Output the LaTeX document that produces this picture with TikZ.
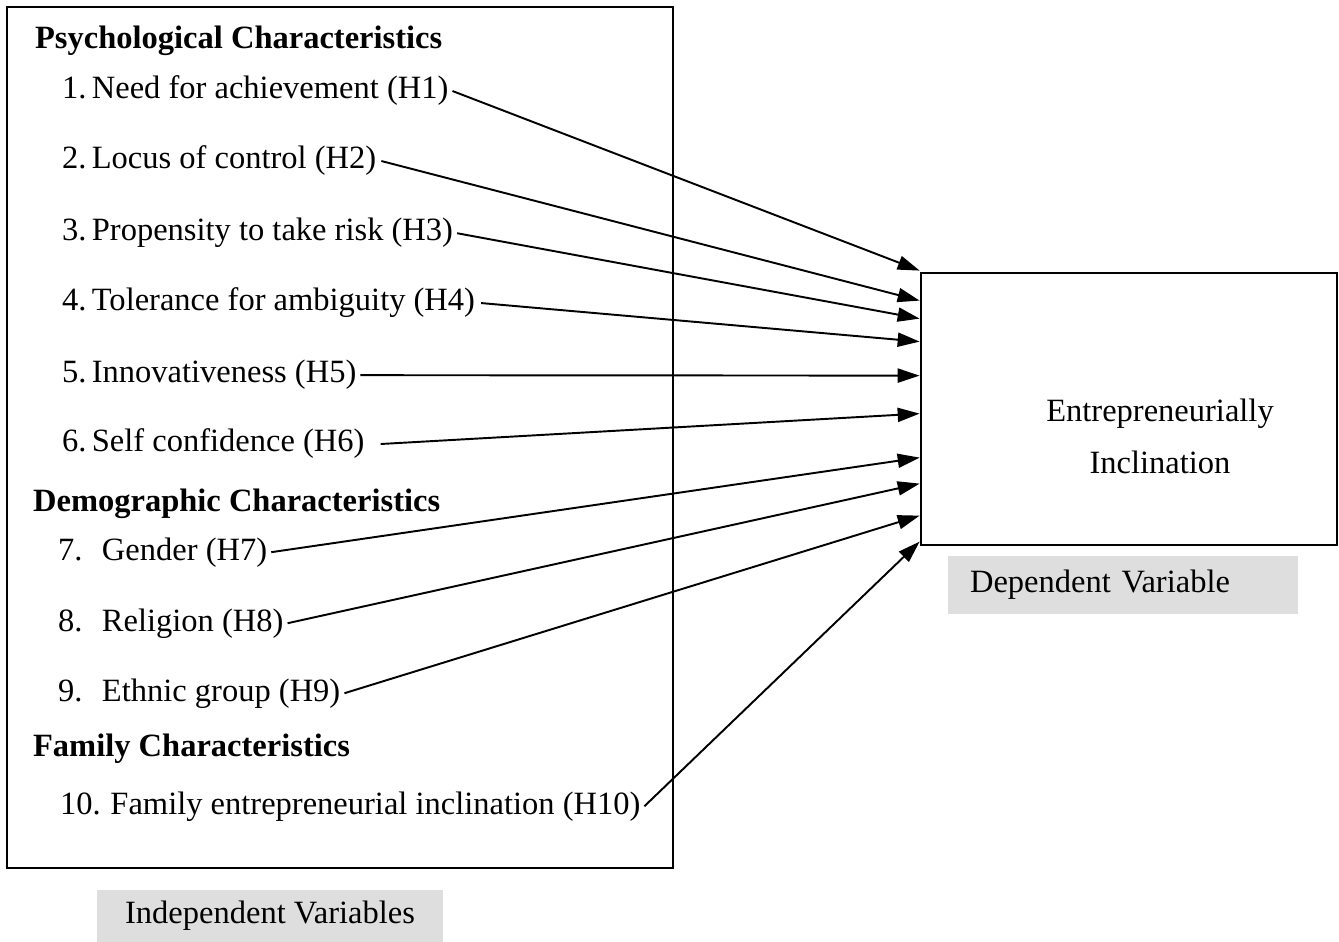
\documentclass[tikz,border=0pt]{standalone}
\usepackage{fontspec}
\setmainfont{Liberation Serif}
\usetikzlibrary{arrows.meta,calc}
\begin{document}
\begin{tikzpicture}[x=0.02cm,y=-0.02cm,
  txt/.style={font=\fontsize{18.5}{22}\selectfont},
  item/.style={txt,anchor=base west,inner sep=1pt},
  head/.style={item,font=\fontsize{18.5}{22}\selectfont\bfseries},
  hyp/.style={line width=1.1pt,-{Triangle[length=12.5pt,width=8pt]}},
  tag/.style={txt,fill=black!13,inner sep=0pt}]
\useasboundingbox (0,0) rectangle (1339,942);
% independent variables
\draw[line width=1.6pt] (7,7) rectangle (673,868);
\node[head] (psy) at (33,49) {Psychological Characteristics};
\node[head] (demo) at (31,511) {Demographic Characteristics};
\node[head] (famc) at (31,756) {Family Characteristics};
\foreach \i/\x/\y/\t in {1/60/99/{1.\,Need for achievement (H1)},
    2/60/169/{2.\,Locus of control (H2)},
    3/60/241/{3.\,Propensity to take risk (H3)},
    4/60/311/{4.\,Tolerance for ambiguity (H4)},
    5/60/383/{5.\,Innovativeness (H5)},
    6/60/452/{6.\,Self confidence (H6)},
    7/56/560/{7.\hspace{0.6em}Gender (H7)},
    8/56/631/{8.\hspace{0.6em}Religion (H8)},
    9/56/701/{9.\hspace{0.6em}Ethnic group (H9)},
    10/58/814/{10.\hspace{0.3em}Family entrepreneurial inclination (H10)}}
  \node[item] (h\i) at (\x,\y) {\t};
\node[tag,minimum width=6.94cm,minimum height=1.04cm] (indep) at (270,916) {Independent Variables};
% dependent variable
\node[draw,line width=1.6pt,inner sep=0pt,minimum width=8.32cm,minimum height=5.44cm] (dep) at (1129,409) {};
\node[txt,align=center,font=\fontsize{18.5}{29.5}\selectfont] (incl) at (1160,436) {Entrepreneurially\\Inclination};
\node[tag,minimum width=7cm,minimum height=1.18cm,text width=6.12cm,inner xsep=0.44cm,align=left] (deplab) at (1123,585) {Dependent Variable};
% hypotheses
\foreach \i/\d in {1/-1, 2/29, 3/47, 4/70, 5/104, 6/142, 7/186, 8/212, 9/244, 10/270}
  \coordinate (t\i) at ($(dep.north west)+(0,\d)$);
\foreach \i/\g in {1/2, 2/3, 3/2, 4/4, 5/2, 6/14, 7/2, 8/2, 9/2, 10/2}
  \draw[hyp] ([xshift=\g*0.02cm]h\i.east) -- (t\i);
\end{tikzpicture}
\end{document}
